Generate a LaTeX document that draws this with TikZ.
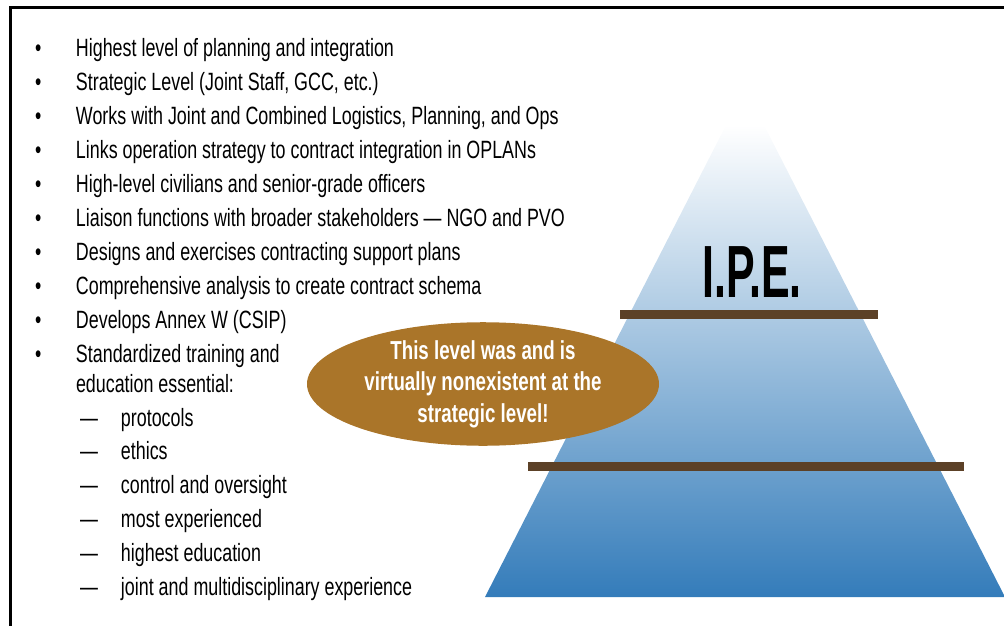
\documentclass[tikz,border=0pt]{standalone}
\usepackage{fontspec}
\usepackage{xcolor}
\usepackage{tikz}
\usetikzlibrary{positioning, shapes}

\setmainfont{Liberation Sans}
\newfontfamily\condfont[FakeStretch=0.715]{Liberation Sans}
\newfontfamily\notefont[FakeStretch=0.72]{Liberation Sans}
\newfontfamily\ipefont[FakeStretch=0.58]{Liberation Sans}

\definecolor{pyrblue}{RGB}{52,124,186}
\definecolor{pyrmid}{RGB}{128,166,210}
\definecolor{barbrown}{RGB}{92,65,39}
\definecolor{notebrown}{RGB}{170,117,41}

\newcommand{\bul}[1]{\makebox[41pt][l]{\textbullet}#1}
\newcommand{\subbul}[1]{\hspace{45pt}\makebox[41pt][l]{\textemdash}#1}

\begin{document}
\begin{tikzpicture}[x=1pt, y=-1pt, node distance=9.9pt,
    item/.style={inner sep=0pt, outer sep=0pt, text height=18pt, text depth=6pt,
        font=\condfont\fontsize{25}{28}\selectfont, anchor=north west}]

        \useasboundingbox (0,0) rectangle (1004,626);

        % Frame
        \draw[line width=3pt] (10,630) -- (10,8) -- (1008,8);

        % Pyramid
        \begin{scope}
            \clip (745,88) -- (485,597) -- (1005,597) -- cycle;
            \shade[top color=white, middle color=pyrmid, bottom color=pyrblue] (480,125) rectangle (1010,597);
        \end{scope}
        \fill[barbrown] (620,310) rectangle (878,319);
        \fill[barbrown] (528,462) rectangle (964,471);
        \node[font=\ipefont\bfseries\fontsize{74}{80}\selectfont, anchor=base, inner sep=0pt] (ipe) at (752,297) {I.P.E.};

        % Note
        \node[ellipse, fill=notebrown, minimum width=352pt, minimum height=122pt, inner sep=0pt,
            align=center, text=white, font=\notefont\bfseries\fontsize{26}{31.5}\selectfont] (note) at (483,384)
            {This level was and is\\virtually nonexistent at the\\strategic level!};

        % Bullet list
        \node[item] (b1) at (35,39) {\bul{Highest level of planning and integration}};
        \node[below=of b1.south west, item] (b2) {\bul{Strategic Level (Joint Staff, GCC, etc.)}};
        \node[below=of b2.south west, item] (b3) {\bul{Works with Joint and Combined Logistics, Planning, and Ops}};
        \node[below=of b3.south west, item] (b4) {\bul{Links operation strategy to contract integration in OPLANs}};
        \node[below=of b4.south west, item] (b5) {\bul{High-level civilians and senior-grade officers}};
        \node[below=of b5.south west, item] (b6) {\bul{Liaison functions with broader stakeholders — NGO and PVO}};
        \node[below=of b6.south west, item] (b7) {\bul{Designs and exercises contracting support plans}};
        \node[below=of b7.south west, item] (b8) {\bul{Comprehensive analysis to create contract schema}};
        \node[below=of b8.south west, item] (b9) {\bul{Develops Annex W (CSIP)}};
        \node[below=of b9.south west, item] (b10) {\bul{Standardized training and}};
        \node[below=6pt of b10.south west, item] (b10b) {\hspace{41pt}education essential:};

        % Sub list
        \node[below=of b10b.south west, item] (s1) {\subbul{protocols}};
        \node[below=of s1.south west, item] (s2) {\subbul{ethics}};
        \node[below=of s2.south west, item] (s3) {\subbul{control and oversight}};
        \node[below=of s3.south west, item] (s4) {\subbul{most experienced}};
        \node[below=of s4.south west, item] (s5) {\subbul{highest education}};
        \node[below=of s5.south west, item] (s6) {\subbul{joint and multidisciplinary experience}};

    \end{tikzpicture}
\end{document}
